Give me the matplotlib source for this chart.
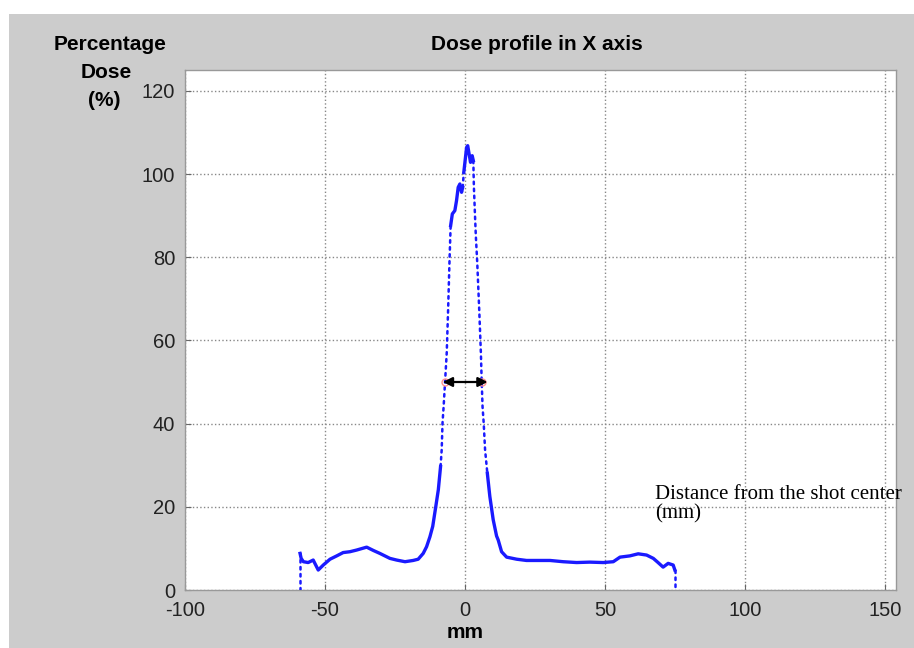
import matplotlib
matplotlib.use('Agg')
import matplotlib.pyplot as plt
from matplotlib.patches import Rectangle
import numpy as np

# Dose profile (mm, % dose)
dist_mm = [-58.9, -58.9, -58.5, -57.7, -56.0, -54.2, -52.4, -50.6, -48.2, -45.8,
           -43.5, -41.1, -38.7, -35.1, -32.7, -30.4, -26.8, -24.4, -21.4, -18.5,
           -16.7, -14.9, -13.7, -12.5, -11.5, -10.4, -9.5, -8.7, -8.3, -8.0,
           -7.6, -7.1, -6.5, -6.0, -5.5, -5.1, -4.5, -3.6, -3.0, -2.4,
           -1.8, -1.2, -0.8, -0.4, 0.0, 0.6, 1.0, 1.5, 2.0, 2.6,
           3.0, 3.2, 3.6, 3.9, 4.4, 5.1, 5.7, 6.0, 6.3, 6.7,
           7.2, 8.0, 8.9, 10.1, 11.3, 11.9, 13.1, 14.9, 18.5, 22.0,
           25.6, 30.4, 35.1, 39.9, 44.6, 49.4, 53.0, 55.4, 58.9, 61.9,
           64.9, 67.3, 69.0, 70.8, 72.6, 74.4, 75.0, 75.0]
dose_pct = [0.0, 8.8, 7.6, 6.8, 6.6, 7.2, 4.8, 6.0, 7.4, 8.2,
            9.0, 9.2, 9.6, 10.3, 9.5, 8.8, 7.6, 7.2, 6.8, 7.1,
            7.4, 8.8, 10.4, 12.8, 15.3, 20.1, 24.1, 29.7, 33.7, 40.2,
            44.2, 50.0, 57.0, 67.5, 79.3, 87.6, 90.4, 91.2, 93.6, 96.8,
            97.6, 95.6, 96.8, 100.4, 102.8, 106.4, 106.8, 104.8, 102.8, 104.4,
            103.2, 97.0, 90.0, 85.1, 78.7, 67.5, 57.0, 50.0, 44.0, 40.2,
            33.7, 28.1, 22.5, 16.9, 13.0, 12.0, 9.2, 7.9, 7.4, 7.1,
            7.1, 7.1, 6.8, 6.6, 6.7, 6.6, 6.8, 7.9, 8.2, 8.7,
            8.4, 7.6, 6.6, 5.5, 6.4, 6.0, 4.8, 0.0]

# 50 % points (FWHM)
half_x = [-7.1, 6.0]
half_y = [50, 50]

x_ticks = [-100, -50, 0, 50, 100, 150]
y_ticks = [0, 20, 40, 60, 80, 100, 120]

sans = ['Liberation Sans Narrow', 'Liberation Sans', 'DejaVu Sans']
plt.rcParams['font.family'] = sans
plt.rcParams['axes.unicode_minus'] = False

W, H = 914, 648
fig = plt.figure(figsize=(W / 100, H / 100), dpi=100, facecolor='white')
fig.patches.append(Rectangle((9 / W, 0), 1, 1 - 14 / H, transform=fig.transFigure,
                             facecolor='#cccccc', edgecolor='none', zorder=-10))

ax = fig.add_axes([185 / W, 1 - 590 / H, (896 - 185) / W, (590 - 70) / H])
ax.set_facecolor('white')

x = np.array(dist_mm)
y = np.array(dose_pct)
dx = np.diff(x)
dy = np.diff(y)
steep = np.abs(dy) > 7 * np.abs(dx)

# draw runs of flat (solid) and steep (dotted) segments
start = 0
for i in range(1, len(steep) + 1):
    if i == len(steep) or steep[i] != steep[start]:
        seg = slice(start, i + 1)
        if steep[start]:
            ax.plot(x[seg], y[seg], color='#1a1aff', ls=(0, (1, 1.8)), lw=1.8,
                    dash_capstyle='round', zorder=3)
        else:
            ax.plot(x[seg], y[seg], color='#1a1aff', lw=2.4, zorder=3)
        start = i

ax.plot(half_x, half_y, 'o', mfc='none', mec='#ff9090', ms=5, mew=1, zorder=4)
ax.annotate('', xy=(-7.9, 50), xytext=(8.1, 50),
            arrowprops=dict(arrowstyle='<|-|>', color='black', lw=1.6,
                            mutation_scale=14, shrinkA=0, shrinkB=0), zorder=5)

ax.set_xlim(-100, 154)
ax.set_ylim(0, 125)
ax.set_xticks(x_ticks)
ax.set_yticks(y_ticks)
ax.grid(True, color='#888888', ls=':', lw=1)
ax.tick_params(direction='in', length=4, color='#666666', labelsize=14.5,
               labelcolor='#222222')
ax.tick_params(axis='x', pad=8)
ax.tick_params(axis='y', pad=7)
for s in ax.spines.values():
    s.set_color('#999999')
    s.set_linewidth(1)

fig.text(537 / W, 1 - 45 / H, 'Dose profile in X axis', ha='center', va='center',
         fontsize=15, fontweight='bold')
# y label: three stacked lines, kept as separate texts
for txt, cx, cy in [('Percentage', 110, 45), ('Dose', 106, 73), ('(%)', 104, 100)]:
    fig.text(cx / W, 1 - cy / H, txt, ha='center', va='center',
             fontsize=15, fontweight='bold')
fig.text(465 / W, 1 - 632 / H, 'mm', ha='center', va='center',
         fontsize=15, fontweight='bold')
fig.text(655 / W, 1 - 485 / H, 'Distance from the shot center\n(mm)', ha='left',
         va='top', fontsize=15, family=['Liberation Serif', 'DejaVu Serif'],
         linespacing=1.05)

fig.savefig('out.png', dpi=100, facecolor=fig.get_facecolor())
